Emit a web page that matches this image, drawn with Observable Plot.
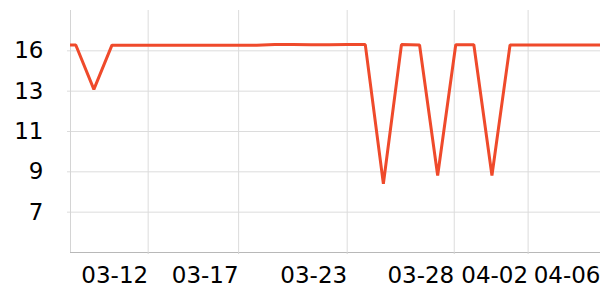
<!DOCTYPE html>
<html>
<head>
<meta charset="utf-8">
<script src="https://cdn.jsdelivr.net/npm/d3@7"></script>
<script src="https://cdn.jsdelivr.net/npm/@observablehq/plot@0.6"></script>
<style>
  html, body { margin: 0; padding: 0; background: #fff; }
</style>
</head>
<body>
<div id="chart"></div>
<script>
// Data
const dates = [
  "2020-03-07","2020-03-08","2020-03-09","2020-03-10","2020-03-11","2020-03-12",
  "2020-03-13","2020-03-14","2020-03-15","2020-03-16","2020-03-17","2020-03-18",
  "2020-03-19","2020-03-20","2020-03-21","2020-03-22","2020-03-23","2020-03-24",
  "2020-03-25","2020-03-26","2020-03-27","2020-03-28","2020-03-29","2020-03-30",
  "2020-03-31","2020-04-01","2020-04-02","2020-04-03","2020-04-04","2020-04-05",
  "2020-04-06"
];
const values = [
  15.92, 15.92, 13.5, 15.91, 15.91, 15.91,
  15.91, 15.91, 15.91, 15.91, 15.91, 15.91,
  15.95, 15.95, 15.93, 15.93, 15.94, 15.94,
  8.35, 15.94, 15.92, 8.8, 15.93, 15.93,
  8.8, 15.92, 15.92, 15.92, 15.92, 15.92,
  15.92
];
const xDomain = ["2020-03-07T17:00Z", "2020-04-06T00:00Z"];
const xTicks = ["2020-03-12", "2020-03-17", "2020-03-23", "2020-03-28T22:00Z", "2020-04-02", "2020-04-06"];
const yDomain = [4.6, 17.8];
const yTicks = [6.8, 9.0, 11.2, 13.4, 15.6];
const yTickLabels = ["7", "9", "11", "13", "16"];

const data = dates.map((d, i) => ({date: new Date(d), value: values[i]}));
const xTickDates = xTicks.map(d => new Date(d));
const fmt = d3.utcFormat("%m-%d");

const chart = Plot.plot({
  width: 600,
  height: 300,
  marginLeft: 70,
  marginRight: 0,
  marginTop: 10,
  marginBottom: 48,
  style: {fontFamily: "DejaVu Sans", fontSize: "23px", background: "#fff", color: "#000"},
  x: {type: "utc", domain: xDomain.map(d => new Date(d)), label: null},
  y: {domain: yDomain, label: null},
  marks: [
    Plot.gridY(yTicks, {stroke: "#dcdcdc", strokeOpacity: 1}),
    Plot.gridX(xTickDates, {stroke: "#dcdcdc", strokeOpacity: 1}),
    Plot.ruleX([new Date(xDomain[0])], {stroke: "#d4d4d4"}),
    Plot.ruleY([yDomain[0]], {stroke: "#b8b8b8"}),
    Plot.axisY(yTicks, {
      tickFormat: (d) => yTickLabels[yTicks.indexOf(d)],
      fontSize: 23, tickSize: 3, tickPadding: 24,
      stroke: "#dcdcdc", fill: "#000", label: null
    }),
    Plot.axisX(xTickDates, {
      tickFormat: d => fmt(d),
      fontSize: 23, tickSize: 2, tickPadding: 12,
      textAnchor: "end",
      stroke: "#d4d4d4", fill: "#000", label: null
    }),
    Plot.lineY(data, {
      x: "date", y: "value",
      stroke: "#ef4a2b", strokeWidth: 3,
      strokeLinejoin: "miter", strokeLinecap: "butt",
      clip: true
    })
  ]
});
document.getElementById("chart").appendChild(chart);
</script>
</body>
</html>
